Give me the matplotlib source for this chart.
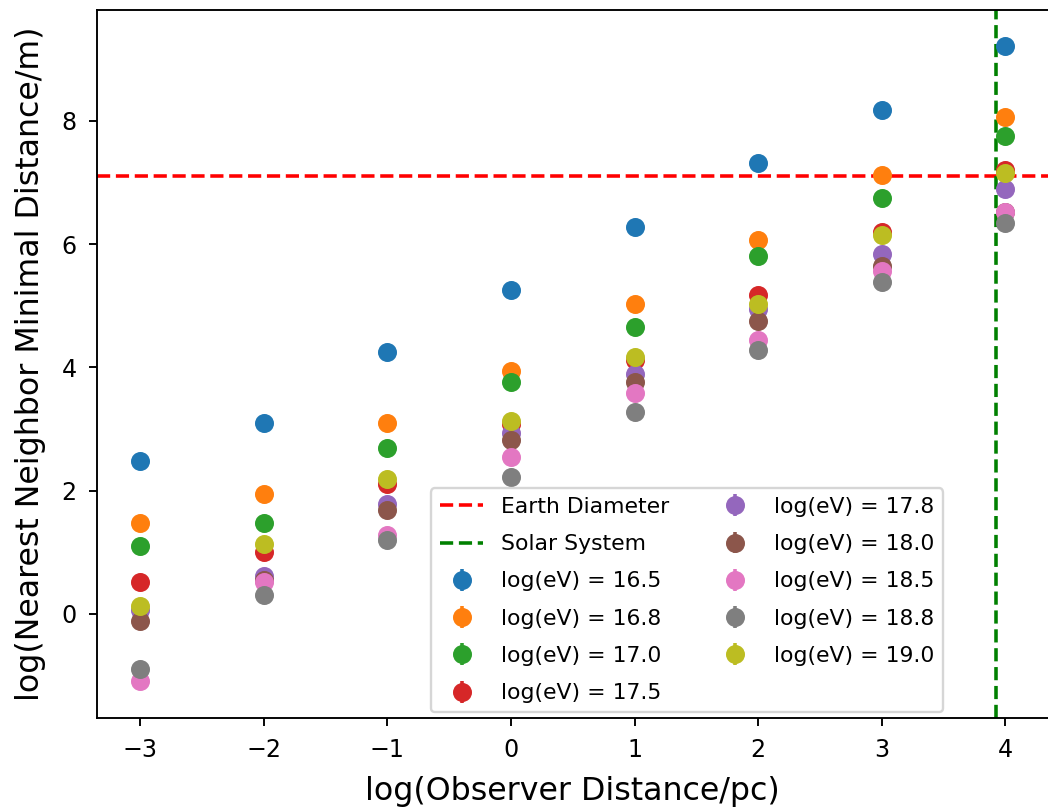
import numpy as np
import matplotlib
matplotlib.use('Agg')
import matplotlib.pyplot as plt

# log10 of observer distance (pc)
log_dist = [-3, -2, -1, 0, 1, 2, 3, 4]

# log10 of nearest neighbour minimal distance (m) for each energy
energies = ['16.5', '16.8', '17.0', '17.5', '17.8', '18.0', '18.5', '18.8', '19.0']
nn_16_5 = [2.48, 3.10, 4.25, 5.25, 6.28, 7.31, 8.18, 9.21]
nn_16_8 = [1.48, 1.94, 3.10, 3.94, 5.03, 6.06, 7.13, 8.06]
nn_17_0 = [1.10, 1.48, 2.70, 3.76, 4.66, 5.81, 6.75, 7.75]
nn_17_5 = [0.52, 1.00, 2.11, 3.08, 4.12, 5.17, 6.20, 7.21]
nn_17_8 = [0.07, 0.62, 1.78, 2.93, 3.90, 4.95, 5.84, 6.90]
nn_18_0 = [-0.11, 0.55, 1.69, 2.82, 3.76, 4.76, 5.65, 6.53]
nn_18_5 = [-1.08, 0.52, 1.28, 2.54, 3.59, 4.45, 5.56, 6.53]
nn_18_8 = [-0.89, 0.30, 1.20, 2.23, 3.28, 4.29, 5.38, 6.35]
nn_19_0 = [0.13, 1.14, 2.19, 3.13, 4.17, 5.03, 6.15, 7.15]
series = [nn_16_5, nn_16_8, nn_17_0, nn_17_5, nn_17_8,
          nn_18_0, nn_18_5, nn_18_8, nn_19_0]
nn_err = 0.05

earth_diameter = 7.105   # log10(12742 km)
solar_system = 3.92      # log10(pc)

dpi = 171
fig = plt.figure(figsize=(1048 / dpi, 807 / dpi), dpi=dpi)
ax = fig.add_axes([97 / 1048, 89 / 807, 951.7 / 1048, 708 / 807])

ax.axhline(earth_diameter, color='red', ls='--', label='Earth Diameter')
ax.axvline(solar_system, color='green', ls='--', label='Solar System')
for e, vals in zip(energies, series):
    ax.errorbar(log_dist, vals, yerr=nn_err, fmt='o', markersize=7,
                label=f'log(eV) = {e}')

ax.set_xlim(-3.35, 4.35)
ax.set_ylim(-1.688, 9.80)
ax.set_xticks(range(-3, 5))
ax.set_yticks([0, 2, 4, 6, 8])
ax.tick_params(pad=5)
ax.set_xlabel('log(Observer Distance/pc)', fontsize=13.3, labelpad=5.7)
ax.set_ylabel('log(Nearest Neighbor Minimal Distance/m)', fontsize=13.3,
              labelpad=6.6)
ax.legend(ncol=2, fontsize=9.2, loc='lower left', labelspacing=0.79,
          bbox_to_anchor=(0.351, 0.0085), borderaxespad=0)

plt.savefig('out.png', dpi=dpi)
